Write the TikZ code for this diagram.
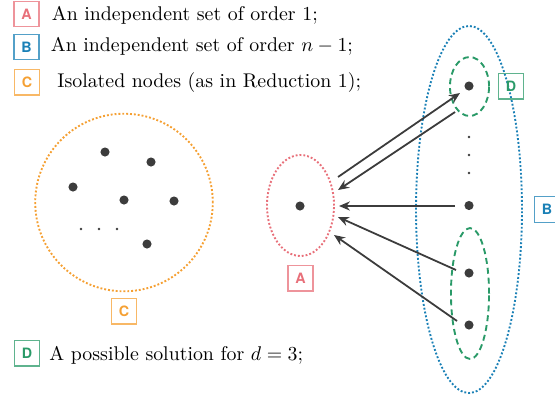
\documentclass[tikz,border=0pt]{standalone}
\usepackage{fontspec}
\newfontfamily\tagfont{TeX Gyre Heros}
\usetikzlibrary{arrows.meta,shapes.geometric}
\definecolor{setA}{HTML}{E8707A}
\definecolor{setB}{HTML}{1A80B6}
\definecolor{setC}{HTML}{F5A033}
\definecolor{setD}{HTML}{2A9A68}
\definecolor{dotgray}{HTML}{3C3C3C}
\begin{document}
\begin{tikzpicture}[x=0.504pt,y=-0.504pt,
  tag/.style={draw=#1!75,text=#1,line width=0.6pt,minimum width=12.6pt,minimum height=13pt,inner sep=0pt,
    font=\tagfont\bfseries\fontsize{7.2}{8}\selectfont},
  legend/.style={anchor=base west,inner sep=0pt},
  vtx/.style={circle,fill=dotgray,inner sep=0pt,minimum size=4.6pt},
  tinyvtx/.style={circle,fill=dotgray,inner sep=0pt,minimum size=1.4pt},
  group/.style={ellipse,draw=#1,inner sep=0pt},
  dotline/.style={densely dotted,line width=0.95pt},
  dashline/.style={densely dashed,line width=0.95pt},
  link/.style={draw=dotgray,line width=0.9pt,-{Stealth[length=5.5pt,width=4.6pt]}}]
\useasboundingbox (0,0) rectangle (555,396);
% legend
\node[tag=setA] (tA) at (26.5,14) {A};
\node[legend] (lA) at (51.5,20.7) {An independent set of order 1;};
\node[tag=setB] (tB) at (26.5,47) {B};
\node[legend] (lB) at (50.5,51.7) {An independent set of order $n-1$;};
\node[tag=setC] (tC) at (27,82) {C};
\node[legend] (lC) at (57,87.3) {Isolated nodes (as in Reduction 1);};
\node[tag=setD] (tD) at (27,353) {D};
\node[legend] (lD) at (49,360) {A possible solution for $d=3$;};
% isolated nodes
\node[group=setC,circle,dotline,minimum size=89.5pt] (C) at (124,202.5) {};
\node[vtx] (c1) at (105,152) {};
\node[vtx] (c2) at (151,162) {};
\node[vtx] (c3) at (73,187) {};
\node[vtx] (c4) at (124,200) {};
\node[vtx] (c5) at (174,201) {};
\node[vtx] (c6) at (147,244) {};
\node[tinyvtx] (cd1) at (81,229) {};
\node[tinyvtx] (cd2) at (99,229) {};
\node[tinyvtx] (cd3) at (117,229) {};
\node[tag=setC] (lbC) at (124,311) {C};
% set A
\node[group=setA,dotline,minimum width=33.8pt,minimum height=50.9pt] (A) at (300.5,205.5) {};
\node[vtx] (a) at (300,206) {};
\node[tag=setA] (lbA) at (300.5,278) {A};
% set B
\node[group=setB,dotline,minimum width=53.4pt,minimum height=185pt] (B) at (469,209.5) {};
\node[tag=setB] (lbB) at (547,209.5) {B};
\node[group=setD,dashline,minimum width=19.7pt,minimum height=29.7pt] (D1) at (469.5,86.5) {};
\node[group=setD,dashline,minimum width=19.2pt,minimum height=66pt] (D2) at (470,293.5) {};
\node[tag=setD] (lbD) at (511,86) {D};
\node[vtx] (b1) at (469,86) {};
\node[tinyvtx] (bd1) at (469,137) {};
\node[tinyvtx] (bd2) at (469,155) {};
\node[tinyvtx] (bd3) at (469,173) {};
\node[vtx] (b2) at (469,205.5) {};
\node[vtx] (b3) at (469,273) {};
\node[vtx] (b4) at (469,325) {};
% arrow ends
\coordinate (s1) at (338,177);
\coordinate (e1) at (460,93);
\coordinate (s2) at (455,112);
\coordinate (e2) at (338,190);
\coordinate (s3) at (455,206);
\coordinate (e3) at (339,206);
\coordinate (s4) at (456,270);
\coordinate (e4) at (338,217);
\coordinate (s5) at (457,321);
\coordinate (e5) at (334,235);
\draw[link] (s1) -- (e1);
\draw[link] (s2) -- (e2);
\draw[link] (s3) -- (e3);
\draw[link] (s4) -- (e4);
\draw[link] (s5) -- (e5);
\end{tikzpicture}
\end{document}
